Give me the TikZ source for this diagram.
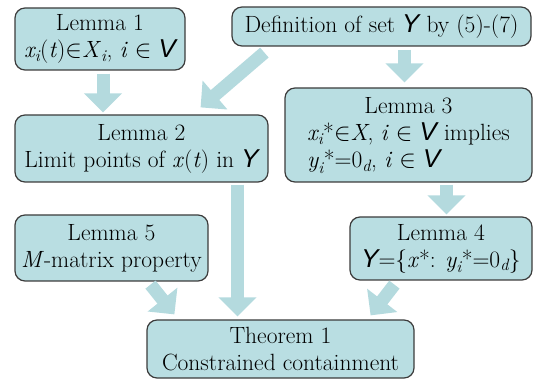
\documentclass[tikz,border=0pt]{standalone}
\usepackage{amsmath}
\usepackage{fontspec}
\newfontfamily\calf{Liberation Sans}[Scale=1.1]
\usetikzlibrary{calc,arrows.meta}
\definecolor{boxfill}{RGB}{185,222,226}
\definecolor{arrowfill}{RGB}{180,218,222}
\definecolor{boxline}{RGB}{60,60,60}
\newcommand{\cV}{{\calf\itshape V}}
\newcommand{\cY}{{\calf\itshape Y}}
\newcommand{\vv}[1]{\textit{#1}}
\begin{document}
\begin{tikzpicture}[x=1pt,y=-1pt,
  box/.style={draw=boxline, fill=boxfill, line width=1.2pt, rounded corners=10pt,
    align=center, inner sep=0pt, font=\fontsize{23.5}{27}\selectfont},
  blockarrow/.style={draw=arrowfill, line width=13pt,
    -{Triangle[width=37pt,length=19pt,fill=arrowfill]}}]
\useasboundingbox (0,0) rectangle (539,385);
\node[box, minimum width=170pt, minimum height=62pt] (l1) at (100,39)
  {Lemma 1\\$\vv{x}_{\vv{i}}$(\vv{t})$\in$\vv{X}$_{\vv{i}}$, \vv{i} $\in$ \cV};
\node[box, minimum width=299pt, minimum height=39pt] (def) at (381.5,26.5)
  {Definition of set \cY\ by (5)-(7)};
\node[box, minimum width=253pt, minimum height=67pt] (l2) at (141.5,148.5)
  {Lemma 2\\Limit points of \vv{x}(\vv{t}) in \cY};
\node[box, minimum width=247pt, minimum height=94pt] (l3) at (408.5,135)
  {\begin{tabular}{@{}l@{}}\multicolumn{1}{@{}c@{}}{Lemma 3}\\
   $\vv{x}_{\vv{i}}$*$\in$\vv{X}, \vv{i} $\in$ \cV\ implies\\
   $\vv{y}_{\vv{i}}$*=0$_{\vv{d}}$, \vv{i} $\in$ \cV\end{tabular}};
\node[box, minimum width=182pt, minimum height=63pt] (l4) at (441,248.5)
  {Lemma 4\\\cY=\{\vv{x}*: $\vv{y}_{\vv{i}}$*=0$_{\vv{d}}$\}};
\node[box, minimum width=193pt, minimum height=66pt] (l5) at (111.5,248)
  {Lemma 5\\\vv{M}-matrix property};
\node[box, minimum width=267pt, minimum height=58pt] (th) at (280.5,349)
  {Theorem 1\\Constrained containment};
% arrows
\coordinate (a1) at ($(l1.south)+(3,3)$);
\draw[blockarrow] (a1) -- ($(a1 |- l2.north)+(0,-2)$);
\draw[blockarrow] ($(def.south west)+(33,6)$) -- ($(l2.north east)+(-68,-7)$);
\coordinate (a3) at ($(def.south)+(23,3)$);
\draw[blockarrow] (a3) -- ($(a3 |- l3.north)+(0,-5)$);
\coordinate (a4) at ($(l3.south)+(38,2)$);
\draw[blockarrow] (a4) -- ($(a4 |- l4.north)+(0,-2)$);
\coordinate (a5) at ($(l2.south)+(96,2)$);
\draw[blockarrow] (a5) -- ($(a5 |- th.north)+(0,-3)$);
\draw[blockarrow] ($(l5.south)+(39,3)$) -- ($(th.north west)+(28,-5)$);
\draw[blockarrow] ($(l4.south west)+(45,4)$) -- ($(th.north east)+(-44,-4)$);
\end{tikzpicture}
\end{document}
